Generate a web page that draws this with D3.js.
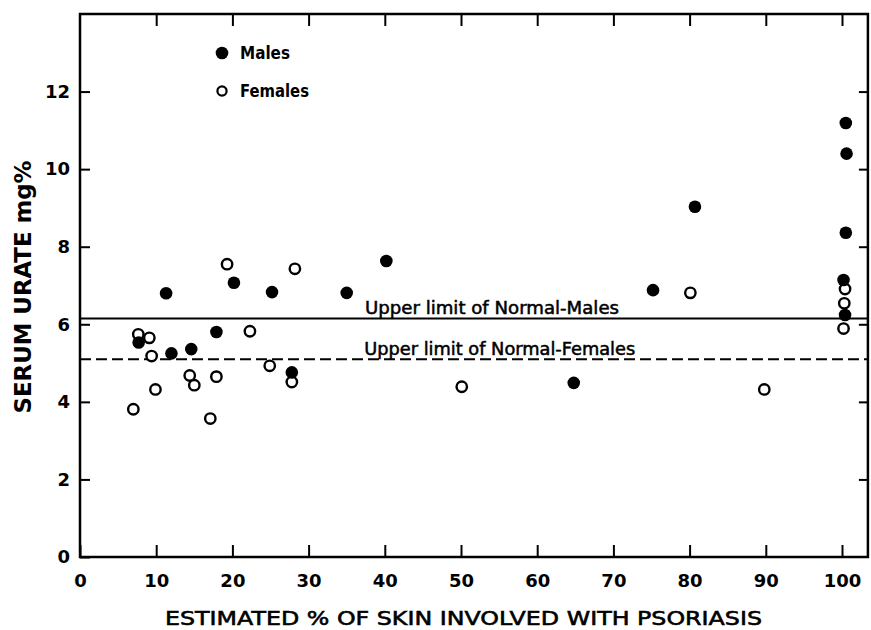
<!DOCTYPE html>
<html>
<head>
<meta charset="utf-8">
<script src="https://cdn.jsdelivr.net/npm/d3@7"></script>
<style>
  body { margin: 0; background: #fff; }
  svg { display: block; }
  text { font-family: "DejaVu Sans", sans-serif; fill: #000; }
  .tick line { stroke: #000; stroke-width: 2; }
</style>
</head>
<body>
<div id="chart"></div>
<script>
// serum urate vs % skin involved
var maleX = [11.3, 20.2, 25.2, 35.0, 7.7, 12.0, 14.6, 17.9, 27.8, 40.2, 75.2, 64.8, 80.7, 100.5, 100.6, 100.5, 100.2, 100.4];
var maleY = [6.80, 7.07, 6.83, 6.81, 5.53, 5.25, 5.36, 5.80, 4.76, 7.63, 6.88, 4.49, 9.03, 11.19, 10.40, 8.36, 7.14, 6.24];

var femaleX = [19.3, 28.2, 7.65, 9.1, 9.4, 22.3, 24.9, 27.8, 14.4, 15.0, 17.9, 9.9, 7.0, 17.1, 80.1, 50.1, 89.8, 100.4, 100.3, 100.2];
var femaleY = [7.55, 7.43, 5.74, 5.65, 5.18, 5.82, 4.93, 4.51, 4.68, 4.43, 4.65, 4.32, 3.81, 3.57, 6.81, 4.39, 4.32, 6.91, 6.54, 5.89];

var xTicks = [0, 10, 20, 30, 40, 50, 60, 70, 80, 90, 100];
var yTicks = [0, 2, 4, 6, 8, 10, 12];
var maleLimit = 6.15;
var femaleLimit = 5.1;

var svgWidth = 871;
var svgHeight = 630;

var svg = d3.select("#chart")
  .append("svg")
  .attr("width", svgWidth)
  .attr("height", svgHeight);

var xScale = d3.scaleLinear().domain([0, 100]).range([80, 842]);
var yScale = d3.scaleLinear().domain([0, 14]).range([557, 14]);
var xMax = 103.4;

// frame
svg.append("rect")
  .attr("x", xScale(0))
  .attr("y", yScale(14))
  .attr("width", xScale(xMax) - xScale(0))
  .attr("height", yScale(0) - yScale(14))
  .attr("fill", "none")
  .attr("stroke", "#000")
  .attr("stroke-width", 2.5);

// bottom axis
var bottomAxis = d3.axisBottom(xScale)
  .tickValues(xTicks)
  .tickSizeInner(-12)
  .tickSizeOuter(0)
  .tickPadding(17);
var xAxis = svg.append("g")
  .attr("transform", `translate(0, ${yScale(0)})`)
  .call(bottomAxis);
xAxis.select(".domain").remove();
xAxis.selectAll("text")
  .attr("font-size", 18)
  .attr("font-weight", "bold")
  .attr("font-family", "DejaVu Sans");

// top ticks
var topAxis = d3.axisTop(xScale)
  .tickValues(xTicks.slice(1))
  .tickSizeInner(-12)
  .tickSizeOuter(0)
  .tickFormat("");
var xTop = svg.append("g")
  .attr("transform", `translate(0, ${yScale(14)})`)
  .call(topAxis);
xTop.select(".domain").remove();

// left axis
var leftAxis = d3.axisLeft(yScale)
  .tickValues(yTicks)
  .tickSizeInner(-10)
  .tickSizeOuter(0)
  .tickPadding(10);
var yAxis = svg.append("g")
  .attr("transform", `translate(${xScale(0)}, 0)`)
  .call(leftAxis);
yAxis.select(".domain").remove();
yAxis.selectAll("text")
  .attr("font-size", 18)
  .attr("font-weight", "bold")
  .attr("font-family", "DejaVu Sans");

// right ticks
var rightAxis = d3.axisRight(yScale)
  .tickValues(yTicks.slice(1))
  .tickSizeInner(-9)
  .tickSizeOuter(0)
  .tickFormat("");
var yRight = svg.append("g")
  .attr("transform", `translate(${xScale(xMax)}, 0)`)
  .call(rightAxis);
yRight.select(".domain").remove();

// upper limit lines
svg.append("line")
  .attr("x1", xScale(0)).attr("x2", xScale(xMax))
  .attr("y1", yScale(maleLimit)).attr("y2", yScale(maleLimit))
  .attr("stroke", "#000")
  .attr("stroke-width", 2);

svg.append("line")
  .attr("x1", xScale(0)).attr("x2", xScale(xMax))
  .attr("y1", yScale(femaleLimit)).attr("y2", yScale(femaleLimit))
  .attr("stroke", "#000")
  .attr("stroke-width", 2)
  .attr("stroke-dasharray", "11,5");

svg.append("text")
  .attr("x", xScale(37.4))
  .attr("y", yScale(maleLimit) - 4)
  .attr("font-size", 17)
  .attr("stroke", "#000")
  .attr("stroke-width", 0.5)
  .attr("textLength", 254)
  .attr("lengthAdjust", "spacingAndGlyphs")
  .text("Upper limit of Normal-Males");

svg.append("text")
  .attr("x", xScale(37.3))
  .attr("y", yScale(femaleLimit) - 4)
  .attr("font-size", 17)
  .attr("stroke", "#000")
  .attr("stroke-width", 0.5)
  .attr("textLength", 271)
  .attr("lengthAdjust", "spacingAndGlyphs")
  .text("Upper limit of Normal-Females");

// points
var males = maleX.map((v, i) => ({x: v, y: maleY[i]}));
var females = femaleX.map((v, i) => ({x: v, y: femaleY[i]}));

svg.append("g").selectAll("circle")
  .data(females)
  .enter()
  .append("circle")
  .attr("cx", d => xScale(d.x))
  .attr("cy", d => yScale(d.y))
  .attr("r", 5.2)
  .attr("fill", "#fff")
  .attr("stroke", "#000")
  .attr("stroke-width", 2.4);

svg.append("g").selectAll("circle")
  .data(males)
  .enter()
  .append("circle")
  .attr("cx", d => xScale(d.x))
  .attr("cy", d => yScale(d.y))
  .attr("r", 6.3)
  .attr("fill", "#000");

// legend
var legend = svg.append("g");
legend.append("circle")
  .attr("cx", 222).attr("cy", 53)
  .attr("r", 6.3).attr("fill", "#000");
legend.append("text")
  .attr("x", 240).attr("y", 59)
  .attr("font-size", 17)
  .attr("font-weight", "bold")
  .attr("textLength", 50)
  .attr("lengthAdjust", "spacingAndGlyphs")
  .text("Males");
legend.append("circle")
  .attr("cx", 222).attr("cy", 91)
  .attr("r", 4.6)
  .attr("fill", "#fff")
  .attr("stroke", "#000")
  .attr("stroke-width", 2.2);
legend.append("text")
  .attr("x", 240).attr("y", 97)
  .attr("font-size", 17)
  .attr("font-weight", "bold")
  .attr("textLength", 69)
  .attr("lengthAdjust", "spacingAndGlyphs")
  .text("Females");

// axis titles
svg.append("text")
  .attr("transform", `translate(31, 287) rotate(-90)`)
  .attr("text-anchor", "middle")
  .attr("font-size", 23)
  .attr("font-weight", "bold")
  .attr("textLength", 253)
  .attr("lengthAdjust", "spacingAndGlyphs")
  .text("SERUM URATE mg%");

svg.append("text")
  .attr("x", 165)
  .attr("y", 625)
  .attr("font-size", 20)
  .attr("stroke", "#000")
  .attr("stroke-width", 0.6)
  .attr("textLength", 597)
  .attr("lengthAdjust", "spacingAndGlyphs")
  .text("ESTIMATED % OF SKIN INVOLVED WITH PSORIASIS");
</script>
</body>
</html>
